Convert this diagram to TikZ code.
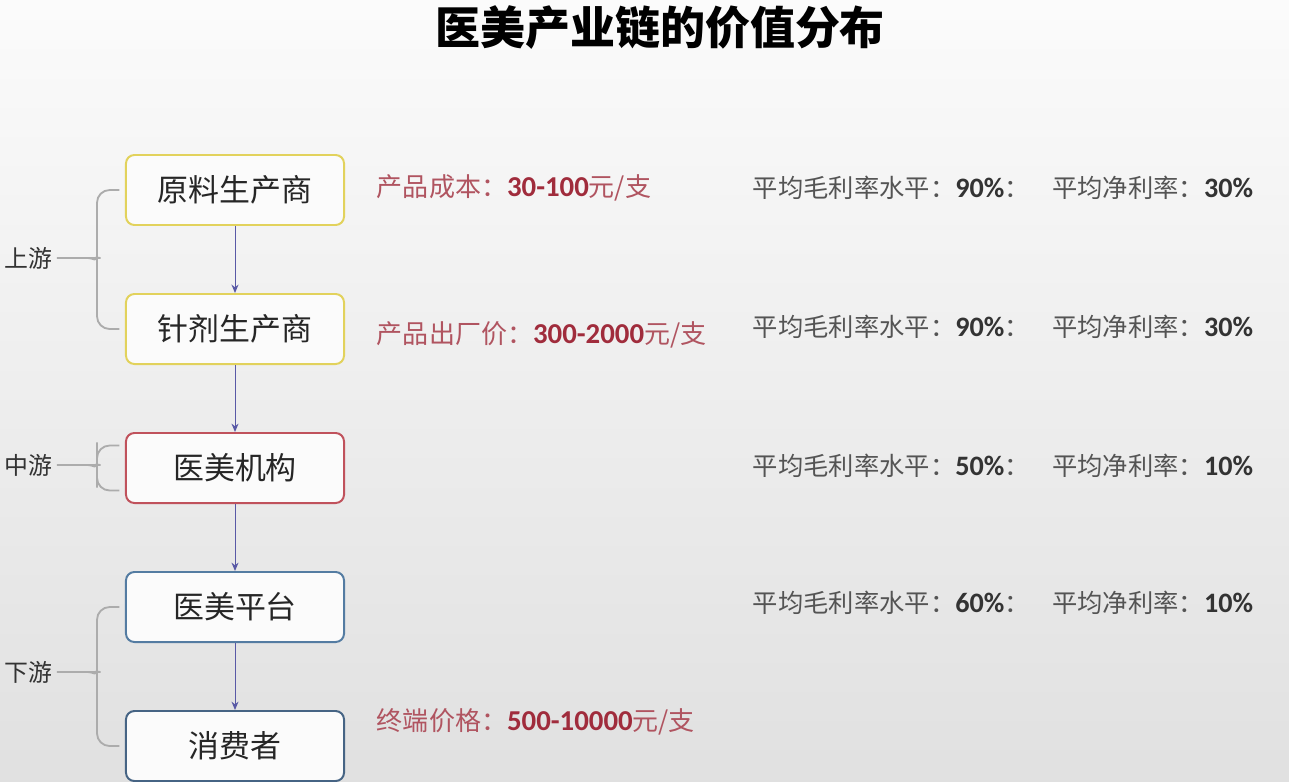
\documentclass[tikz,border=0pt]{standalone}
\usepackage{fontspec}
\setmainfont{Noto Sans CJK SC}
\newfontfamily\latin{Carlito}
\usetikzlibrary{arrows.meta, positioning}

\definecolor{ylwline}{RGB}{226,210,92}
\definecolor{redline}{RGB}{192,82,92}
\definecolor{blueline}{RGB}{84,124,162}
\definecolor{navyline}{RGB}{70,100,132}
\definecolor{pricered}{RGB}{176,84,96}
\definecolor{numred}{RGB}{160,44,60}
\definecolor{ratiogray}{RGB}{84,84,84}

\newcommand{\pnum}[1]{{\fontsize{20.5}{21}\latin\bfseries\color{numred}#1}}
\newcommand{\rnum}[1]{{\fontsize{20}{21}\latin\bfseries\color{black!80}#1}}
\newcommand{\margins}[2]{平均毛利率水平：\rnum{#1}：\hspace{16pt}平均净利率：\rnum{#2}}

\begin{document}
\begin{tikzpicture}[
    x=0.025cm, y=-0.025cm,
    node distance=1.675cm,
    firm/.style={draw, rounded corners=6pt, line width=1.4pt, fill=white!97!gray, align=center,
      minimum width=5.45cm, minimum height=1.75cm, font=\fontsize{22}{25}\selectfont, text=black!85},
    arr/.style={-{Stealth[length=6pt,width=5pt]}, draw=gray!70!blue, line width=0.7pt},
    brk/.style={draw=gray!65, line width=1.3pt, rounded corners=9pt},
    tier/.style={font=\fontsize{17}{20}\selectfont, text=black!80},
    price/.style={anchor=west, font=\fontsize{18.5}{21}\selectfont, text=pricered},
    ratio/.style={anchor=west, font=\fontsize{18}{21}\selectfont, text=ratiogray}
]
\useasboundingbox (0,0) rectangle (1289,782);
\shade[top color=white!97!gray, bottom color=gray!24] (0,0) rectangle (1289,782);

\node[font=\fontsize{32}{36}\selectfont\bfseries] (title) at (660,28) {医美产业链的价值分布};

% value chain
\node[firm, draw=ylwline] (yuan) at (235,190) {原料生产商};
\node[firm, draw=ylwline, below=of yuan] (zhen) {针剂生产商};
\node[firm, draw=redline, below=of zhen] (jigou) {医美机构};
\node[firm, draw=blueline, below=of jigou] (pingtai) {医美平台};
\node[firm, draw=navyline, below=of pingtai] (xiaofei) {消费者};

\draw[arr] (yuan) -- (zhen);
\draw[arr] (zhen) -- (jigou);
\draw[arr] (jigou) -- (pingtai);
\draw[arr] (pingtai) -- (xiaofei);

% upstream / midstream / downstream
\node[tier] (shang) at (28,258) {上游};
\node[tier] (zhong) at (28,465) {中游};
\node[tier] (xia) at (28,672) {下游};

\draw[brk] (shang.east) -- (88,258) to[out=0,in=-90] (97,248) |- ([xshift=-4pt]yuan.west);
\draw[brk] (88,258) to[out=0,in=90] (97,268) |- ([xshift=-4pt]zhen.west);
\draw[brk] (zhong.east) -- (88,465) to[out=0,in=-90] (97,455) |- ([xshift=-4pt,yshift=16pt]jigou.west);
\draw[brk] (88,465) to[out=0,in=90] (97,475) |- ([xshift=-4pt,yshift=-16pt]jigou.west);
\draw[brk] (xia.east) -- (88,672) to[out=0,in=-90] (97,662) |- ([xshift=-4pt]pingtai.west);
\draw[brk] (88,672) to[out=0,in=90] (97,682) |- ([xshift=-4pt]xiaofei.west);

% prices
\node[price] (cost) at (372,188) {产品成本：\pnum{30-100}元/支};
\node[price] (factory) at (372,335) {产品出厂价：\pnum{300-2000}元/支};
\node[price] (retail) at (372,722) {终端价格：\pnum{500-10000}元/支};

% margins
\node[ratio] (m1) at (748,188) {\margins{90\%}{30\%}};
\node[ratio] (m2) at (748,327) {\margins{90\%}{30\%}};
\node[ratio] (m3) at (748,466) {\margins{50\%}{10\%}};
\node[ratio] (m4) at (748,603) {\margins{60\%}{10\%}};
\end{tikzpicture}
\end{document}
